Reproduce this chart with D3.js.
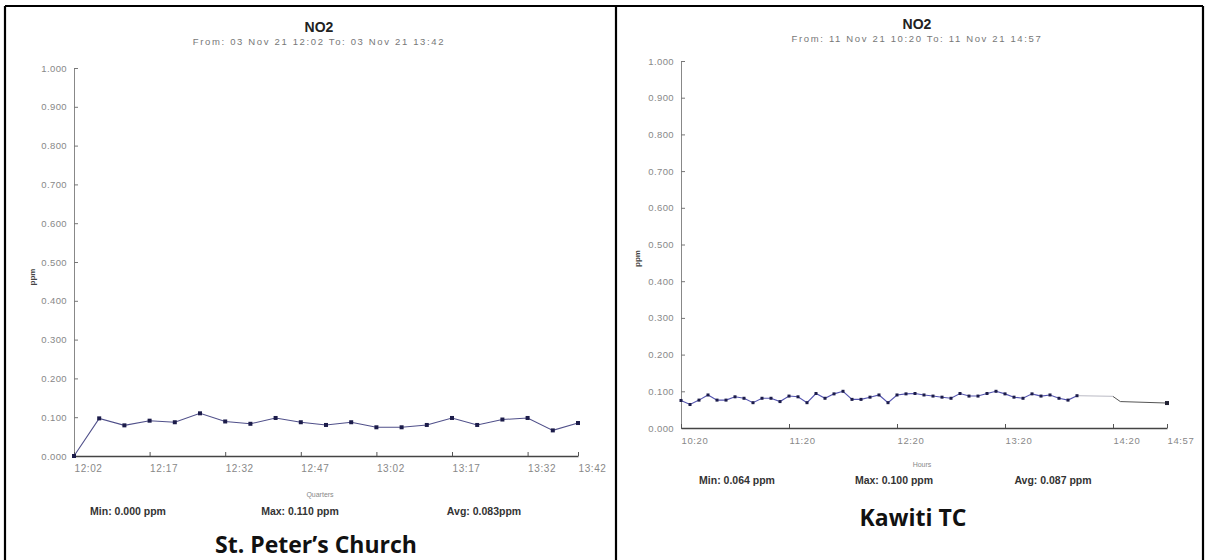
<!DOCTYPE html>
<html><head><meta charset="utf-8">
<script src="https://cdn.jsdelivr.net/npm/d3@7"></script>
<style>body{margin:0;background:#fff}svg{display:block}</style>
</head><body>
<svg id="c" width="1207" height="560"></svg>
<script>
// ---------- data ----------
const yTickValues = [0, 0.1, 0.2, 0.3, 0.4, 0.5, 0.6, 0.7, 0.8, 0.9, 1.0];

const leftTitle = "NO2";
const leftSubtitle = "From: 03 Nov 21 12:02 To: 03 Nov 21 13:42";
const leftTimes = ["12:02","12:07","12:12","12:17","12:22","12:27","12:32","12:37","12:42","12:47","12:52",
                   "12:57","13:02","13:07","13:12","13:17","13:22","13:27","13:32","13:37","13:42"];
const leftValues = [0.000,0.097,0.079,0.091,0.087,0.110,0.089,0.083,0.098,0.087,0.080,
                    0.087,0.074,0.074,0.080,0.098,0.080,0.094,0.098,0.066,0.085];
const leftTickLabels = ["12:02","12:17","12:32","12:47","13:02","13:17","13:32","13:42"];
const leftXTitle = "Quarters";
const leftStats = ["Min: 0.000 ppm","Max: 0.110 ppm","Avg: 0.083ppm"];
const leftCaption = "St. Peter\u2019s Church";

const rightTitle = "NO2";
const rightSubtitle = "From: 11 Nov 21 10:20 To: 11 Nov 21 14:57";
const rightTimes = ["10:20","10:25","10:30","10:35","10:40","10:45","10:50","10:55","11:00","11:05","11:10","11:15",
                    "11:20","11:25","11:30","11:35","11:40","11:45","11:50","11:55","12:00","12:05","12:10","12:15",
                    "12:20","12:25","12:30","12:35","12:40","12:45","12:50","12:55","13:00","13:05","13:10","13:15",
                    "13:20","13:25","13:30","13:35","13:40","13:45","13:50","13:55","14:00"];
const rightValues = [0.075,0.064,0.076,0.090,0.076,0.076,0.085,0.081,0.069,0.081,0.081,0.072,
                     0.087,0.085,0.069,0.094,0.081,0.093,0.100,0.078,0.078,0.084,0.090,0.069,
                     0.090,0.093,0.094,0.090,0.087,0.084,0.081,0.094,0.087,0.087,0.094,0.100,
                     0.093,0.084,0.081,0.093,0.087,0.090,0.081,0.076,0.088];
const rightGapTimes = ["14:00","14:20"];
const rightGapValues = [0.088,0.086];
const rightTailTimes = ["14:20","14:25","14:57"];
const rightTailValues = [0.086,0.072,0.068];
const rightTickLabels = ["10:20","11:20","12:20","13:20","14:20","14:57"];
const rightXTitle = "Hours";
const rightStats = ["Min: 0.064 ppm","Max: 0.100 ppm","Avg: 0.087 ppm"];
const rightCaption = "Kawiti TC";

// ---------- drawing ----------
const parse = d3.timeParse("%H:%M");
const svg = d3.select("#c");
const fmt = d3.format(".3f");
const SANS = "Liberation Sans, Arial, sans-serif";

// table frame
const frame = svg.append("g").attr("stroke", "#000").attr("stroke-width", 2.2).attr("fill", "none");
frame.append("line").attr("x1", 5).attr("y1", 6).attr("x2", 1203).attr("y2", 6);
frame.append("line").attr("x1", 5).attr("y1", 6).attr("x2", 5).attr("y2", 560);
frame.append("line").attr("x1", 616).attr("y1", 6).attr("x2", 616).attr("y2", 560);
frame.append("line").attr("x1", 1203).attr("y1", 6).attr("x2", 1203).attr("y2", 560);

function panel(o) {
  const g = svg.append("g");
  const x = o.x, y = o.y;
  const x0 = x.range()[0];
  const [y0, y1] = y.range();

  g.append("text").attr("x", o.titleX).attr("y", o.titleY).attr("text-anchor", "middle")
    .attr("font-family", SANS).attr("font-size", 14).attr("font-weight", "bold")
    .attr("fill", "#222").text(o.title);
  g.append("text").attr("x", o.titleX).attr("y", o.titleY + 13).attr("text-anchor", "middle")
    .attr("font-family", SANS).attr("font-size", 9.5).attr("letter-spacing", 1.65)
    .attr("fill", "#777").text(o.subtitle);

  // y axis
  const ya = g.append("g").attr("transform", `translate(${x0},0)`)
    .call(d3.axisLeft(y).tickValues(yTickValues).tickFormat(fmt).tickSizeInner(-4).tickSizeOuter(0).tickPadding(7));
  ya.select(".domain").attr("stroke", "#888");
  ya.selectAll(".tick line").attr("stroke", "#777");
  ya.selectAll("text").attr("font-family", SANS).attr("font-size", 9.5).attr("letter-spacing", 0.4).attr("fill", "#888");

  // x axis
  const xa = g.append("g").attr("transform", `translate(0,${y0})`)
    .call(d3.axisBottom(x).tickValues(o.ticks.map(parse)).tickFormat(d3.timeFormat("%H:%M"))
      .tickSizeInner(-4).tickSizeOuter(0).tickPadding(9));
  xa.select(".domain").attr("stroke", "#444").attr("stroke-width", 1.6);
  xa.selectAll(".tick line").attr("stroke", "#555");
  xa.selectAll("text").attr("text-anchor", "start").attr("font-family", SANS)
    .attr("font-size", o.xFont).attr("letter-spacing", 0.6).attr("fill", "#888");

  // axis titles
  g.append("text").attr("transform", `translate(${o.ppmX},${(y0 + y1) / 2 + o.ppmDy}) rotate(-90)`)
    .attr("text-anchor", "middle").attr("font-family", SANS)
    .attr("font-size", 8).attr("font-weight", "bold").attr("fill", "#444").text("ppm");
  g.append("text").attr("x", o.xTitleX).attr("y", y0 + o.xTitleDy).attr("text-anchor", "middle")
    .attr("font-family", SANS).attr("font-size", 7).attr("fill", "#888").text(o.xTitle);

  // series
  const line = d3.line().x(d => x(d.t)).y(d => y(d.v));
  const main = o.times.map((t, i) => ({t: parse(t), v: o.values[i]}));
  if (o.gap) {
    const gap = o.gap.times.map((t, i) => ({t: parse(t), v: o.gap.values[i]}));
    g.append("path").datum(gap).attr("d", line).attr("fill", "none").attr("stroke", "#c8c8d0").attr("stroke-width", 1.2);
  }
  if (o.tail) {
    const tail = o.tail.times.map((t, i) => ({t: parse(t), v: o.tail.values[i]}));
    g.append("path").datum(tail).attr("d", line).attr("fill", "none").attr("stroke", "#555").attr("stroke-width", 1);
    const last = tail[tail.length - 1];
    g.append("rect").attr("x", x(last.t) - 2).attr("y", y(last.v) - 2).attr("width", 4).attr("height", 4).attr("fill", "#223");
  }
  g.append("path").datum(main).attr("d", line).attr("fill", "none").attr("stroke", o.lineColor).attr("stroke-width", 1.1);
  g.selectAll("rect.m").data(main).join("rect").attr("class", "m")
    .attr("x", d => x(d.t) - o.ms / 2).attr("y", d => y(d.v) - o.ms / 2)
    .attr("width", o.ms).attr("height", o.ms).attr("fill", "#1c1c4a");

  // stats
  o.stats.forEach((s, i) => {
    g.append("text").attr("x", o.statX[i]).attr("y", o.statY).attr("text-anchor", "middle")
      .attr("font-family", "Liberation Sans Narrow, Liberation Sans, Arial, sans-serif").attr("font-size", 10.5)
      .attr("font-weight", "bold").attr("fill", "#333").text(s);
  });
  // caption
  g.append("text").attr("x", o.capX).attr("y", o.capY).attr("text-anchor", "middle")
    .attr("font-family", "Open Sans, sans-serif").attr("font-size", 23).attr("font-weight", "bold")
    .attr("fill", "#111").text(o.caption);
}

panel({
  x: d3.scaleTime().domain([parse("12:02"), parse("13:42")]).range([74, 578]),
  y: d3.scaleLinear().domain([0, 1]).range([456, 68]),
  title: leftTitle, subtitle: leftSubtitle, titleX: 319, titleY: 32,
  ticks: leftTickLabels, xFont: 10, xTitle: leftXTitle, xTitleX: 320, xTitleDy: 41, ppmX: 35, ppmDy: 15,
  times: leftTimes, values: leftValues, lineColor: "#50508a", ms: 4,
  stats: leftStats, statX: [128, 300, 484], statY: 515,
  caption: leftCaption, capX: 316, capY: 553
});

panel({
  x: d3.scaleTime().domain([parse("10:20"), parse("14:20"), parse("14:57")]).range([681, 1113, 1167]),
  y: d3.scaleLinear().domain([0, 1]).range([428, 61]),
  title: rightTitle, subtitle: rightSubtitle, titleX: 917, titleY: 29,
  ticks: rightTickLabels, xFont: 9.5, xTitle: rightXTitle, xTitleX: 922, xTitleDy: 39, ppmX: 640, ppmDy: 14,
  times: rightTimes, values: rightValues, lineColor: "#5555b0", ms: 3,
  gap: {times: rightGapTimes, values: rightGapValues},
  tail: {times: rightTailTimes, values: rightTailValues},
  stats: rightStats, statX: [737, 894, 1053], statY: 484,
  caption: rightCaption, capX: 913, capY: 526
});
</script>
</body></html>
